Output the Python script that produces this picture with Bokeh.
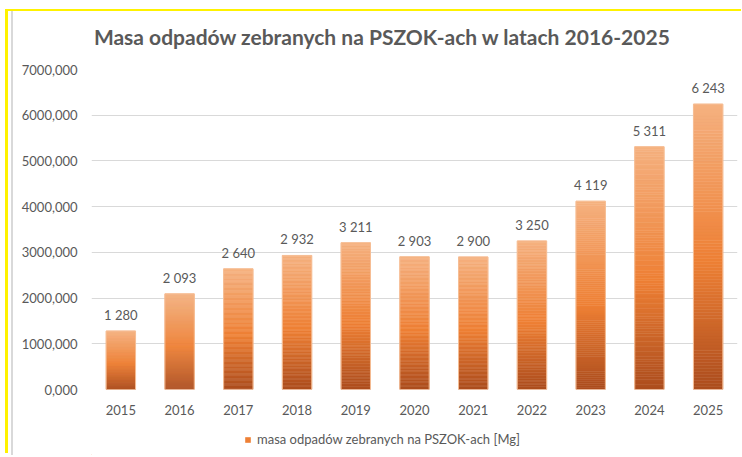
from bokeh.plotting import figure
from bokeh.layouts import column
from bokeh.models import FactorRange, Range1d, FixedTicker, Legend, LegendItem, Label
from bokeh.embed import file_html
from bokeh.resources import INLINE

# ---- data ----
years = ["2015", "2016", "2017", "2018", "2019", "2020", "2021", "2022", "2023", "2024", "2025"]
mass = [1280, 2093, 2640, 2932, 3211, 2903, 2900, 3250, 4119, 5311, 6243]
y_ticks = [0, 1000, 2000, 3000, 4000, 5000, 6000, 7000]
y_tick_labels = ["0,000", "1000,000", "2000,000", "3000,000", "4000,000", "5000,000", "6000,000", "7000,000"]
title_text = "Masa odpadów zebranych na PSZOK-ach w latach 2016-2025"
series_name = "masa odpadów zebranych na PSZOK-ach [Mg]"

FONT = "Lato"
TXT = "#595959"
OX, OY = 13, 11          # page position of the chart area
W = 728
FL, FR = 91, 737         # page x of the plot frame
HT, H1, H2 = 44, 370, 30 # title strip, chart, legend strip
MBL, MBR = FL - OX, W - (FR - OX)

def strip(h):
    f = figure(width=W, height=h, x_range=Range1d(FL, FR), y_range=Range1d(0, h),
               output_backend="svg", toolbar_location=None,
               x_axis_location=None, y_axis_location=None,
               min_border_left=MBL, min_border_right=MBR, min_border_top=0, min_border_bottom=0,
               border_fill_color="white", background_fill_color="white", outline_line_color=None)
    f.xgrid.grid_line_color = None
    f.ygrid.grid_line_color = None
    return f

# ---- title strip ----
ts = strip(HT)
ts.add_layout(Label(x=382, y=HT - (36 - OY), text=title_text, text_align="center",
                    text_baseline="middle", text_font=FONT, text_font_size="21px",
                    text_font_style="bold", text_color=TXT))

# ---- chart ----
top0 = OY + HT
p = figure(x_range=FactorRange(*years, range_padding=0), y_range=Range1d(0, 7000),
           width=W, height=H1, output_backend="svg", toolbar_location=None,
           min_border_left=MBL, min_border_right=MBR,
           min_border_top=69 - top0, min_border_bottom=H1 - (389 - top0),
           border_fill_color="white", background_fill_color="white", outline_line_color=None)

# gradient bars (per bar, top light -> orange -> dark bottom)
stops = [(0.0, (0xF5, 0xB1, 0x80)), (0.55, (0xEE, 0x80, 0x35)), (1.0, (0xAC, 0x4D, 0x1E))]

def grad(t):
    for (t0, c0), (t1, c1) in zip(stops[:-1], stops[1:]):
        if t0 <= t <= t1:
            f = (t - t0) / (t1 - t0)
            return "#%02x%02x%02x" % tuple(int(round(a + (b - a) * f)) for a, b in zip(c0, c1))
    return "#%02x%02x%02x" % stops[-1][1]

N = 96
xs, bots, tops, cols = [], [], [], []
for yr, v in zip(years, mass):
    for i in range(N):
        xs.append(yr)
        bots.append(v * i / N)
        tops.append(v * (i + 1) / N)
        cols.append(grad(1 - (i + 0.5) / N))
p.vbar(x=xs, bottom=bots, top=tops, width=0.5, fill_color=cols, line_color=cols, line_width=0.5)
p.vbar(x=years, top=mass, width=0.5, fill_color=None, line_color="#F6BE95", line_width=1)

# data labels
labels = [f"{v:,}".replace(",", " ") for v in mass]
p.text(x=years, y=mass, text=labels, text_align="center", text_baseline="middle",
       y_offset=-16, text_font_size="13px", text_color=TXT, text_font={"value": FONT})

# axes
p.yaxis.ticker = FixedTicker(ticks=y_ticks)
p.yaxis.major_label_overrides = {t: l for t, l in zip(y_ticks, y_tick_labels)}
for ax in (p.xaxis[0], p.yaxis[0]):
    ax.axis_line_color = None
    ax.major_tick_line_color = None
    ax.minor_tick_line_color = None
    ax.major_tick_out = 0
    ax.major_tick_in = 0
    ax.major_label_text_font = FONT
    ax.major_label_text_font_size = "13px"
    ax.major_label_text_color = TXT
p.yaxis.major_label_standoff = 14
p.xaxis.major_label_standoff = 15

p.xgrid.grid_line_color = None
p.ygrid.grid_line_color = "#D9D9D9"
p.ygrid.grid_line_width = 1

# ---- legend strip ----
lg = strip(H2)
swatch = lg.vbar(x=[FL - 50], top=[1], width=1, fill_color="#EE8035", line_color=None)  # off-frame swatch source
legend = Legend(items=[LegendItem(label=series_name, renderers=[swatch])],
                location=(244 - FL, 8), orientation="horizontal",
                glyph_width=7, glyph_height=7, label_standoff=6, label_height=14,
                padding=0, margin=0, spacing=0, border_line_color=None, background_fill_alpha=0,
                label_text_font=FONT, label_text_font_size="13px", label_text_color=TXT)
lg.add_layout(legend, "center")

layout = column(ts, p, lg, spacing=0)
# chart-area frame: gray inner edge, yellow outer edge (top & left)
layout.styles = {"margin-left": f"{OX}px", "margin-top": f"{OY}px",
                 "box-shadow": "-2px 0 0 0 #D9D9D9, -5px 0 0 0 #FFFFFF, -8px -2px 0 0 #FFF200, 0 -2px 0 0 #FFF200"}

open("out.html", "w").write(file_html(layout, INLINE))
